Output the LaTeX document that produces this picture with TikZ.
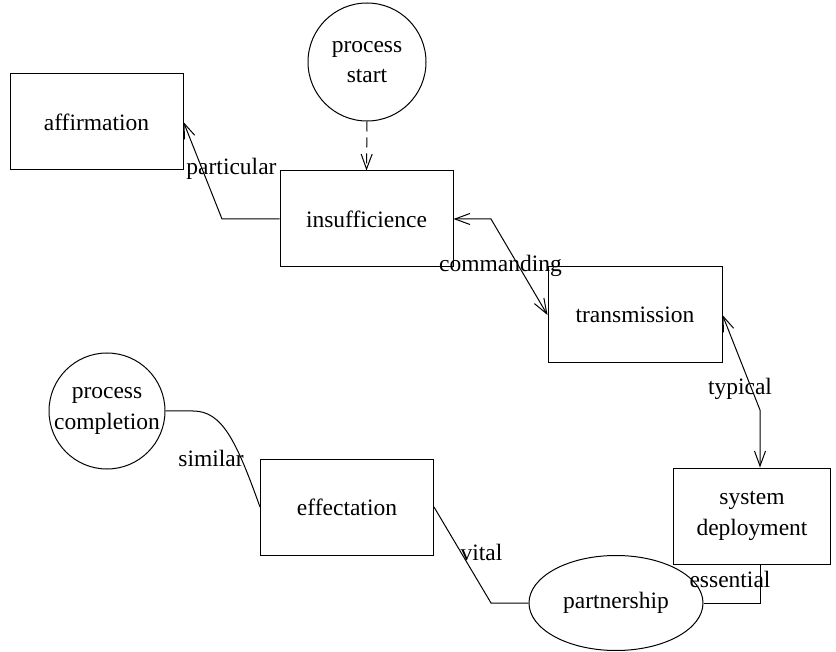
\documentclass[tikz,border=0pt]{standalone}
\usepackage{fontspec}
\setmainfont{Liberation Serif}
\usetikzlibrary{shapes.geometric,arrows.meta}
\begin{document}
\begin{tikzpicture}[x=1pt,y=-1pt,
  every node/.style={font=\fontsize{23.5}{30.5}\selectfont, align=center},
  box/.style={draw, line width=1pt, rectangle, inner sep=0pt},
  circ/.style={draw, line width=1pt, circle, inner sep=0pt, minimum size=118pt},
  oval/.style={draw, line width=1pt, ellipse, inner sep=0pt, minimum width=174pt, minimum height=95pt},
  lbl/.style={inner sep=0pt},
  conn/.style={line width=1pt},
  tip/.style={line width=1pt, -{Straight Barb[length=15pt,width=11pt]}},
  tips/.style={line width=1pt, {Straight Barb[length=15pt,width=11pt]}-{Straight Barb[length=15pt,width=11pt]}}]
\useasboundingbox (0,0) rectangle (836,652);

\node[box, minimum width=173pt, minimum height=96pt] (aff) at (96.5,122) {affirmation};
\node[circ] (ps) at (367,62) {process\\start};
\node[box, minimum width=173pt, minimum height=96pt] (ins) at (366.5,219) {insufficience};
\node[box, minimum width=174pt, minimum height=96pt] (tra) at (635,315) {transmission};
\node[box, minimum width=157pt, minimum height=96pt] (sys) at (752,516) {system\\deployment};
\node[oval] (par) at (616,603) {partnership};
\node[box, minimum width=173pt, minimum height=96pt] (eff) at (347,507) {effectation};
\node[circ, minimum size=116pt] (pc) at (107,411) {process\\completion};

% connectors
\draw[tip, dash pattern=on 10pt off 6pt] (ps.south) -- (ins.north);
\draw[tip] (ins.west) -- (222,219) -- (aff.east);
\draw[tips] (ins.east) -- (491,219) -- (tra.west);
\draw[tips] (tra.east) -- (760,410) -- (sys.north -| 760,0);
\draw[conn] (par.east) -- (760,603) -- (sys.south -| 760,0);
\draw[conn] (par.west) -- (491,603) -- (eff.east);
\draw[conn] (pc.east) -- (193,411) .. controls (222,411) and (236,440) .. (eff.west);

% labels
\node[lbl] (lp) at (231.5,169) {particular};
\node[lbl] (lc) at (500.5,266) {commanding};
\node[lbl] (lt) at (740,389) {typical};
\node[lbl] (ls) at (211,458) {similar};
\node[lbl] (lv) at (481.5,552) {vital};
\node[lbl] (le) at (730,579) {essential};
\end{tikzpicture}
\end{document}
